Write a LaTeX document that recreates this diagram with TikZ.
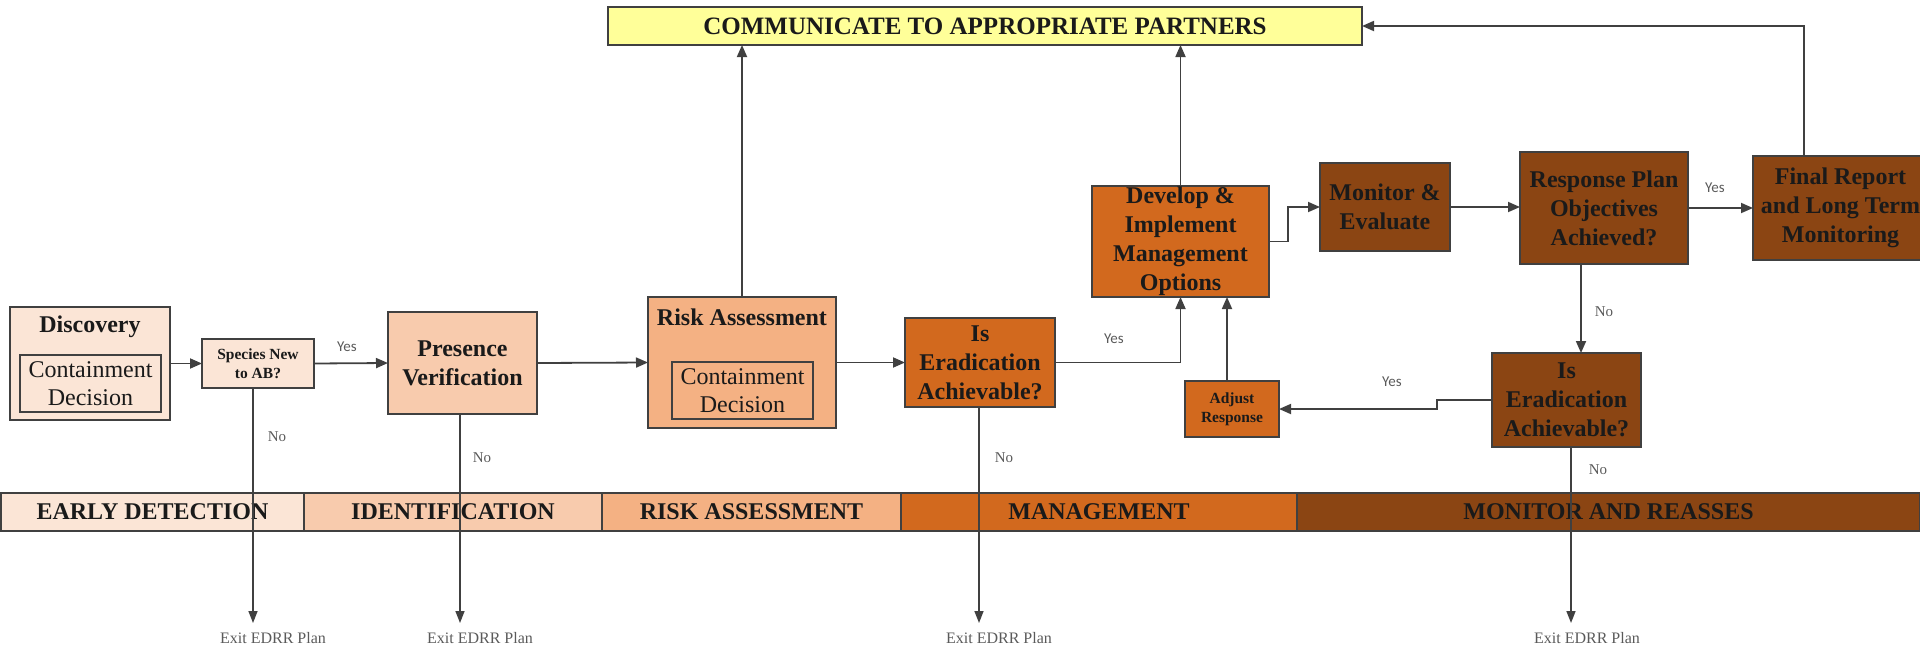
\documentclass[tikz,border=0pt]{standalone}
\usepackage{fontspec}
\setmainfont{Liberation Serif}
\newfontfamily\lblfont{Carlito}
\usetikzlibrary{arrows.meta,calc}
\definecolor{lc}{HTML}{404040}
\definecolor{cA}{HTML}{FBE5D6}
\definecolor{cB}{HTML}{F8CBAD}
\definecolor{cC}{HTML}{F4B183}
\definecolor{cD}{HTML}{D2691E}
\definecolor{cE}{HTML}{8B4513}
\definecolor{cY}{HTML}{FFFF99}
\definecolor{tx}{HTML}{1A1A1A}
\definecolor{lbl}{HTML}{5A5A5A}
\tikzset{
 box/.style={draw=lc, line width=1.6pt, inner sep=0pt, outer sep=0pt, align=center, text=tx, font=\fontsize{24}{29}\selectfont\bfseries},
 smallbox/.style={box, font=\fontsize{15.5}{19}\selectfont\bfseries},
 titletxt/.style={inner sep=0pt, text=tx, font=\fontsize{24}{29}\selectfont\bfseries},
 inbox/.style={draw=lc, line width=1.4pt, inner sep=0pt, outer sep=0pt, align=center, text=tx, font=\fontsize{24}{28}\selectfont},
 band/.style={draw=lc, line width=1.2pt, inner sep=0pt, outer sep=0pt, minimum height=38pt, text=tx, font=\fontsize{24}{28}\selectfont\bfseries},
 arr/.style={draw=lc, line width=1.8pt, -{Triangle[length=12pt,width=10pt]}},
 exitarr/.style={draw=lc, line width=1.5pt, -{Triangle[length=12pt,width=9pt]}},
 yeslbl/.style={text=lbl, font=\lblfont\fontsize{15}{18}\selectfont},
 nolbl/.style={text=lbl, font=\fontsize{15}{18}\selectfont},
 exitlbl/.style={text=lbl, font=\fontsize{16}{18}\selectfont},
}
\begin{document}
\begin{tikzpicture}[x=1pt,y=-1pt]
\useasboundingbox (0,0) rectangle (1920,646);
\clip (0,0) rectangle (1920,646);

% phase band
\node[band, fill=cA, minimum width=303pt] (b1) at (152.5,512) {EARLY DETECTION};
\node[band, fill=cB, minimum width=298pt] (b2) at (453,512) {IDENTIFICATION};
\node[band, fill=cC, minimum width=299pt] (b3) at (751.5,512) {RISK ASSESSMENT};
\node[band, fill=cD, minimum width=396pt] (b4) at (1099,512) {MANAGEMENT};
\node[band, fill=cE, minimum width=623pt] (b5) at (1608.5,512) {MONITOR AND REASSES};

% boxes
\node[box, fill=cY, minimum width=754pt, minimum height=38pt, font=\fontsize{25}{28}\selectfont\bfseries] (comm) at (985,26) {COMMUNICATE TO APPROPRIATE PARTNERS};

\node[box, fill=cA, minimum width=160pt, minimum height=113pt] (disc) at (90,363.5) {};
\node[titletxt] (disct) at (90,327) {Discovery};
\node[inbox, minimum width=141pt, minimum height=57pt] (disccd) at (90.5,383.5) {Containment\\Decision};

\node[smallbox, fill=cA, minimum width=112pt, minimum height=49pt] (spec) at (258,363.5) {Species New\\to AB?};

\node[box, fill=cB, minimum width=149pt, minimum height=102pt] (pres) at (462.5,363) {Presence\\Verification};

\node[box, fill=cC, minimum width=188pt, minimum height=131pt] (risk) at (742,362.5) {};
\node[titletxt] (riskt) at (742,317) {Risk Assessment};
\node[inbox, minimum width=141pt, minimum height=57pt] (riskcd) at (742.5,390.5) {Containment\\Decision};

\node[box, fill=cD, minimum width=150pt, minimum height=89pt] (erad1) at (980,362.5) {Is\\Eradication\\Achievable?};
\node[box, fill=cD, minimum width=177pt, minimum height=111pt] (dev) at (1180.5,241.5) {Develop \&\\Implement\\Management\\Options};
\node[box, fill=cE, minimum width=130pt, minimum height=88pt] (mon) at (1385,207) {Monitor \&\\Evaluate};
\node[box, fill=cE, minimum width=168pt, minimum height=112pt] (resp) at (1604,208) {Response Plan\\Objectives\\Achieved?};
\node[box, fill=cE, minimum width=175pt, minimum height=104pt] (final) at (1840.5,208) {Final Report\\and Long Term\\Monitoring};
\node[smallbox, fill=cD, minimum width=94pt, minimum height=56pt] (adj) at (1232,409) {Adjust\\Response};
\node[box, fill=cE, minimum width=149pt, minimum height=94pt] (erad2) at (1566.5,400) {Is\\Eradication\\Achievable?};

% connectors
\draw[arr] (disc.east) -- (spec.west);
\draw[arr] (spec.east) -- (pres.west);
\draw[arr] (pres.east) -- (risk.west);
\draw[arr] (risk.east) -- (erad1.west);
\draw[arr] (risk.north) -- (risk.north |- comm.south);
\draw[arr] (erad1.east) -| (dev.south);
\draw[arr] (dev.north) -- (dev.north |- comm.south);
\draw[arr] (dev.east) -- ++(19,0) |- (mon.west);
\draw[arr] (mon.east) -- (mon.east -| resp.west);
\draw[arr] (resp.east) -- (resp.east -| final.west);
\draw[arr] ([xshift=-36.5pt]final.north) |- (comm.east);
\draw[arr] ([xshift=-23pt]resp.south) -- ([xshift=-23pt]resp.south |- erad2.north);
\draw[arr] (erad2.west) -- ++(-55,0) |- (adj.east);
\draw[arr] ([xshift=-5pt]adj.north) -- ([xshift=-5pt]adj.north |- dev.south);

% exits
\coordinate (x1) at (253,623);
\coordinate (x2) at (460,623);
\coordinate (x3) at (979,623);
\coordinate (x4) at (1571,623);
\draw[exitarr] ([xshift=-5pt]spec.south) -- (x1);
\draw[exitarr] ([xshift=-2.5pt]pres.south) -- (x2);
\draw[exitarr] ([xshift=-1pt]erad1.south) -- (x3);
\draw[exitarr] ([xshift=4.5pt]erad2.south) -- (x4);
\node[exitlbl] (ex1) at ([xshift=20pt,yshift=-15pt]x1) {Exit EDRR Plan};
\node[exitlbl] (ex2) at ([xshift=20pt,yshift=-15pt]x2) {Exit EDRR Plan};
\node[exitlbl] (ex3) at ([xshift=20pt,yshift=-15pt]x3) {Exit EDRR Plan};
\node[exitlbl] (ex4) at ([xshift=16pt,yshift=-15pt]x4) {Exit EDRR Plan};

% labels
\node[yeslbl] (y1) at (347,347) {Yes};
\node[yeslbl] (y2) at (1114,339) {Yes};
\node[yeslbl] (y3) at (1392,382) {Yes};
\node[yeslbl] (y4) at (1715,188) {Yes};
\node[nolbl] (n1) at (277,437) {No};
\node[nolbl] (n2) at (482,458) {No};
\node[nolbl] (n3) at (1004,458) {No};
\node[nolbl] (n4) at (1598,470) {No};
\node[nolbl] (n5) at (1604,312) {No};
\end{tikzpicture}
\end{document}
